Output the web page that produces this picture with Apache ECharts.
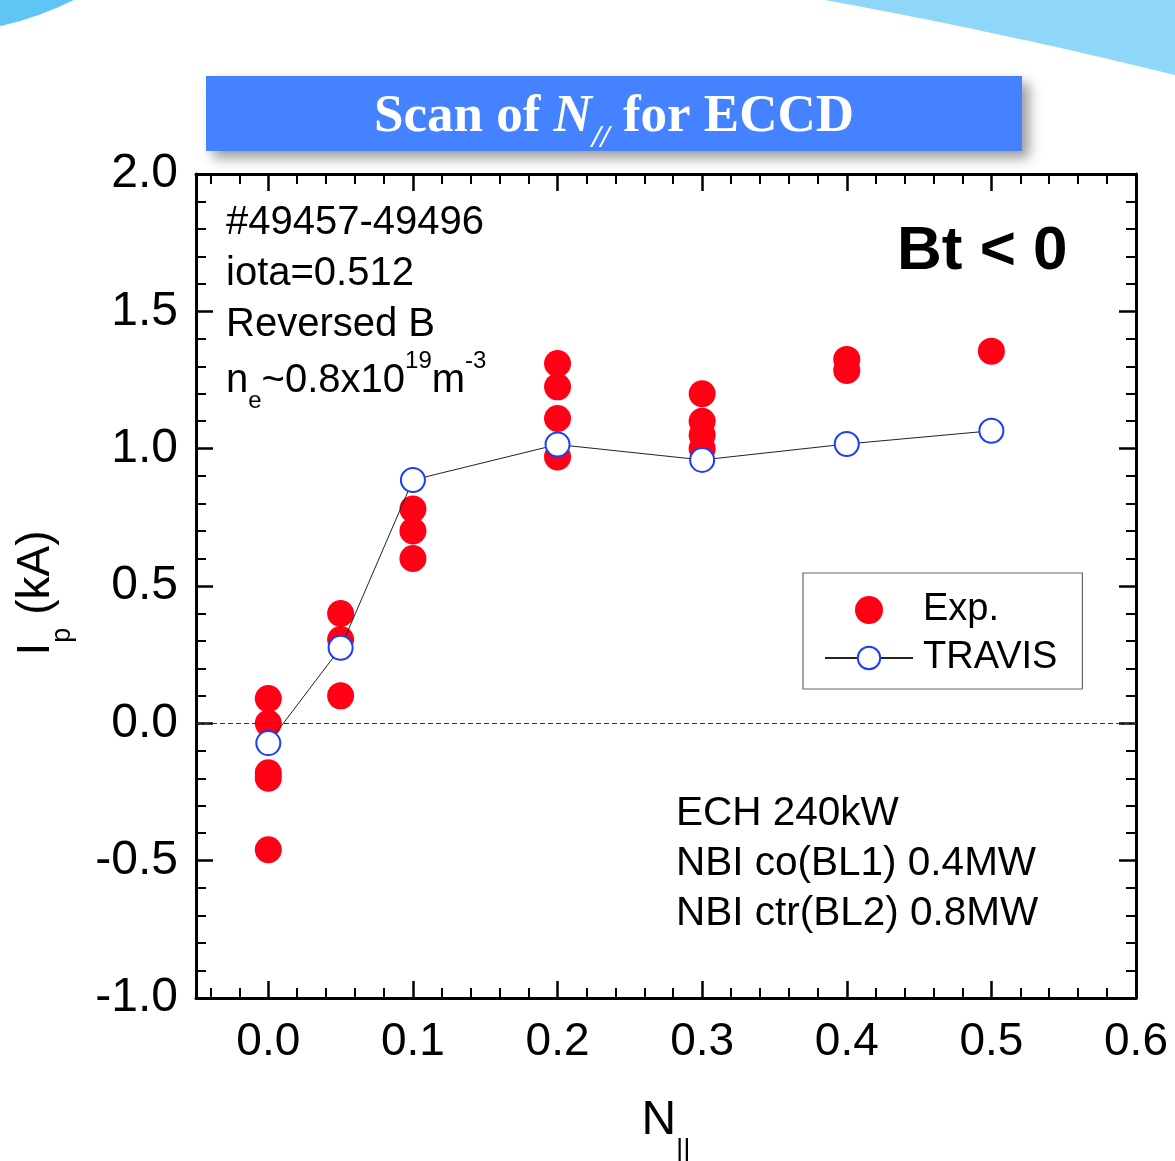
<!DOCTYPE html>
<html>
<head>
<meta charset="utf-8">
<script src="https://cdn.jsdelivr.net/npm/echarts@6.0.0/dist/echarts.min.js"></script>
<style>
html,body{margin:0;padding:0;background:#fff;}
#chart{width:1175px;height:1161px;}
</style>
</head>
<body>
<div id="chart"></div>
<script>
// ---- data ----
const expN  = [0, 0, 0, 0, 0, 0.05, 0.05, 0.05, 0.1, 0.1, 0.1, 0.2, 0.2, 0.2, 0.2, 0.3, 0.3, 0.3, 0.3, 0.4, 0.4, 0.5];
const expIp = [0.09, 0.0, -0.18, -0.20, -0.46, 0.40, 0.305, 0.10, 0.78, 0.70, 0.60, 1.31, 1.225, 1.11, 0.97, 1.20, 1.10, 1.05, 1.00, 1.325, 1.285, 1.355];
const travisN  = [0, 0.05, 0.1, 0.2, 0.3, 0.4, 0.5];
const travisIp = [-0.072, 0.275, 0.886, 1.015, 0.959, 1.017, 1.065];
const xTickLabels = [0.0, 0.1, 0.2, 0.3, 0.4, 0.5, 0.6];
const yTickLabels = [-1.0, -0.5, 0.0, 0.5, 1.0, 1.5, 2.0];
const xMinorTicks = [];
for (let k = -2; k <= 29; k++) { if (k % 5 !== 0) xMinorTicks.push(+(k * 0.02).toFixed(2)); }

const FONT = 'Liberation Sans, Arial, sans-serif';
const SERIF = 'Liberation Serif, Times New Roman, serif';
const X_MIN = -0.05, X_MAX = 0.6, Y_MIN = -1, Y_MAX = 2;

// decorative page corners (quadratic curve sampled into polygon points)
function quadPoly(pre, p0, c, p1, post) {
  const pts = pre.slice();
  for (let i = 0; i <= 24; i++) {
    const t = i / 24, u = 1 - t;
    pts.push([u*u*p0[0] + 2*u*t*c[0] + t*t*p1[0], u*u*p0[1] + 2*u*t*c[1] + t*t*p1[1]]);
  }
  return pts.concat(post);
}
const cornerLeft  = quadPoly([[0, 0]], [74, 0], [34, 19], [0, 26], []);
const cornerRight = quadPoly([[1175, 0]], [1175, 75], [1000, 32], [825, 0], []);

const chart = echarts.init(document.getElementById('chart'), null, {renderer: 'canvas'});

function xAx(pos, major, labels) {
  return {
    type: 'value', position: pos, min: X_MIN, max: X_MAX,
    axisLine: {show: major, onZero: false, lineStyle: {color: '#000', width: 3}},
    axisTick: {show: true, inside: true, length: major ? 17 : 10,
               lineStyle: {color: '#000', width: major ? 2.5 : 2},
               customValues: major ? xTickLabels : xMinorTicks},
    axisLabel: {show: labels, customValues: xTickLabels, margin: 21,
                formatter: v => v.toFixed(1), fontSize: 46, color: '#000', fontFamily: FONT},
    splitLine: {show: false}
  };
}
function yAx(pos, labels) {
  return {
    type: 'value', position: pos, min: Y_MIN, max: Y_MAX, interval: 0.5,
    axisLine: {show: true, onZero: false, lineStyle: {color: '#000', width: 3}},
    axisTick: {show: true, inside: true, length: 17, lineStyle: {color: '#000', width: 2.5}},
    minorTick: {show: true, splitNumber: 5, length: 10, lineStyle: {color: '#000', width: 2}},
    axisLabel: {show: labels, margin: 18, formatter: v => v.toFixed(1),
                fontSize: 48, color: '#000', fontFamily: FONT},
    splitLine: {show: false}, minorSplitLine: {show: false}
  };
}

const option = {
  backgroundColor: '#fff',
  animation: false,
  grid: {left: 196, right: 39, top: 174, bottom: 163, containLabel: false},
  xAxis: [xAx('bottom', true, true), xAx('bottom', false, false), xAx('top', true, false), xAx('top', false, false)],
  yAxis: [yAx('left', true), yAx('right', false)],
  legend: {
    left: 803, top: 573, orient: 'vertical',
    borderColor: '#666', borderWidth: 1.2, padding: [18, 25, 12, 21],
    itemWidth: 88, itemHeight: 28, itemGap: 10,
    textStyle: {fontSize: 38, color: '#000', fontFamily: FONT, lineHeight: 28, padding: [0, 0, 0, 5]},
    data: ['Exp.', 'TRAVIS']
  },
  series: [
    {
      name: 'Exp.', type: 'scatter', symbol: 'circle', symbolSize: 27,
      itemStyle: {color: '#ff0015', opacity: 1},
      data: expN.map((n, i) => [n, expIp[i]]),
      z: 2,
      markLine: {
        silent: true, symbol: 'none', label: {show: false},
        lineStyle: {color: '#333', width: 1, type: [5, 3]},
        data: [{yAxis: 0}]
      }
    },
    {
      name: 'TRAVIS', type: 'line', symbol: 'circle', symbolSize: 24,
      itemStyle: {color: '#ffffff', borderColor: '#1a3dff', borderWidth: 2},
      lineStyle: {color: '#222', width: 1},
      data: travisN.map((n, i) => [n, travisIp[i]]),
      z: 3
    }
  ],
  graphic: [
    {type: 'polygon', shape: {points: cornerLeft}, style: {fill: '#5ec5f5'}, z: 0},
    {type: 'polygon', shape: {points: cornerRight}, style: {fill: '#8fd7f8'}, z: 0},
    {type: 'rect', shape: {x: 206, y: 76, width: 816, height: 75},
     style: {fill: '#4482ff', shadowBlur: 12, shadowOffsetX: 7, shadowOffsetY: 7, shadowColor: 'rgba(0,0,0,0.4)'}, z: 1},
    {type: 'text', x: 614, y: 117, z: 2,
     style: {
       text: '{a|Scan of }{i|N}{s|//}{a| for ECCD}', align: 'center', verticalAlign: 'middle',
       rich: {
         a: {fontSize: 53, fontWeight: 'bold', fontFamily: SERIF, fill: '#fff', lineHeight: 76, verticalAlign: 'middle'},
         i: {fontSize: 53, fontWeight: 'bold', fontStyle: 'italic', fontFamily: SERIF, fill: '#fff', lineHeight: 76, verticalAlign: 'middle'},
         s: {fontSize: 32, fontWeight: 'bold', fontStyle: 'italic', fontFamily: SERIF, fill: '#fff', lineHeight: 30, verticalAlign: 'bottom'}
       }
     }},
    // annotations
    {type: 'text', x: 226, y: 223, style: {text: '#49457-49496', font: '40px ' + FONT, fill: '#000', verticalAlign: 'middle'}},
    {type: 'text', x: 226, y: 274, style: {text: 'iota=0.512', font: '40px ' + FONT, fill: '#000', verticalAlign: 'middle'}},
    {type: 'text', x: 226, y: 325, style: {text: 'Reversed B', font: '40px ' + FONT, fill: '#000', verticalAlign: 'middle'}},
    {type: 'text', x: 226, y: 381,
     style: {
       text: '{n|n}{s|e}{n|~0.8x10}{p|19}{n|m}{p|-3}', verticalAlign: 'middle',
       rich: {
         n: {fontSize: 40, fontFamily: FONT, fill: '#000', lineHeight: 64, verticalAlign: 'middle'},
         s: {fontSize: 24, fontFamily: FONT, fill: '#000', lineHeight: 20, verticalAlign: 'bottom'},
         p: {fontSize: 24, fontFamily: FONT, fill: '#000', lineHeight: 36, verticalAlign: 'top'}
       }
     }},
    {type: 'text', x: 897, y: 252, style: {text: 'Bt < 0', font: 'bold 62px ' + FONT, fill: '#000', verticalAlign: 'middle'}},
    {type: 'text', x: 676, y: 814, style: {text: 'ECH 240kW', font: '40.5px ' + FONT, fill: '#000', verticalAlign: 'middle'}},
    {type: 'text', x: 676, y: 864, style: {text: 'NBI co(BL1) 0.4MW', font: '40.5px ' + FONT, fill: '#000', verticalAlign: 'middle'}},
    {type: 'text', x: 676, y: 914, style: {text: 'NBI ctr(BL2) 0.8MW', font: '40.5px ' + FONT, fill: '#000', verticalAlign: 'middle'}},
    // axis titles
    {type: 'text', x: 36, y: 593, rotation: Math.PI / 2,
     style: {
       text: '{a|I}{b|p}{a| (kA)}', align: 'center', verticalAlign: 'middle',
       rich: {
         a: {fontSize: 46, fontFamily: FONT, fill: '#000', lineHeight: 80, verticalAlign: 'middle'},
         b: {fontSize: 27, fontFamily: FONT, fill: '#000', lineHeight: 22, verticalAlign: 'bottom'}
       }
     }},
    {type: 'text', x: 666, y: 1121,
     style: {
       text: '{a|N}{b|||}', align: 'center', verticalAlign: 'middle',
       rich: {
         a: {fontSize: 48, fontFamily: FONT, fill: '#000', lineHeight: 86, verticalAlign: 'middle'},
         b: {fontSize: 28, fontFamily: FONT, fill: '#000', lineHeight: 28, verticalAlign: 'bottom'}
       }
     }}
  ]
};
chart.setOption(option);
</script>
</body>
</html>
